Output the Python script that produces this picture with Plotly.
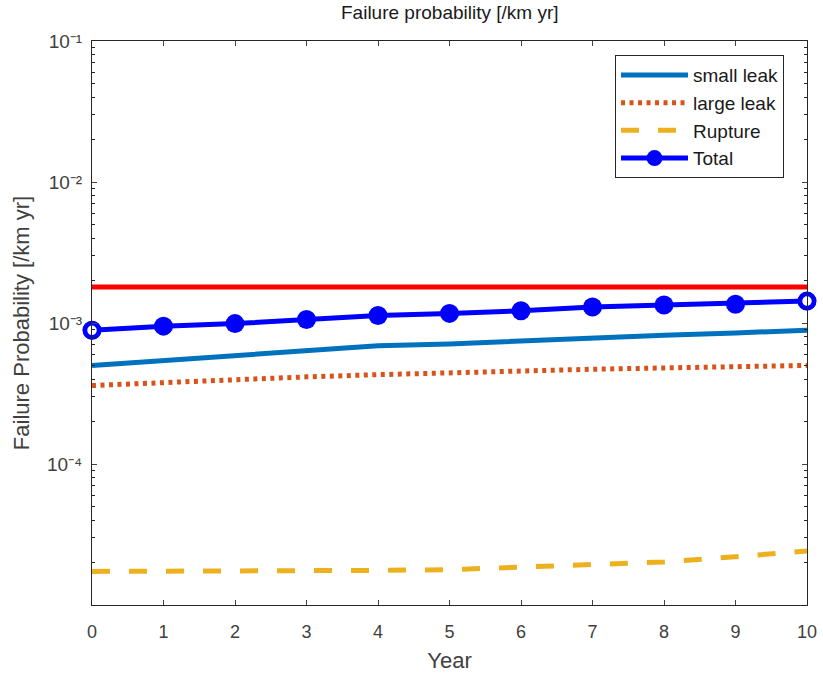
import plotly.graph_objects as go

years = [0, 1, 2, 3, 4, 5, 6, 7, 8, 9, 10]
small_leak = [5.0e-4, 5.4e-4, 5.8e-4, 6.3e-4, 6.9e-4, 7.1e-4, 7.5e-4, 7.9e-4, 8.2e-4, 8.5e-4, 8.9e-4]
large_leak = [3.6e-4, 3.8e-4, 4.0e-4, 4.15e-4, 4.3e-4, 4.45e-4, 4.6e-4, 4.7e-4, 4.8e-4, 4.9e-4, 5.0e-4]
rupture = [1.73e-5, 1.73e-5, 1.74e-5, 1.75e-5, 1.76e-5, 1.78e-5, 1.85e-5, 1.94e-5, 2.02e-5, 2.2e-5, 2.42e-5]
total = [8.87e-4, 9.5e-4, 9.9e-4, 1.06e-3, 1.13e-3, 1.17e-3, 1.22e-3, 1.30e-3, 1.34e-3, 1.36e-3, 1.43e-3]
limit_value = 1.8e-3
limit = [limit_value for _ in years]

ytick_vals = [1e-4, 1e-3, 1e-2, 1e-1]
ytick_text = ["10⁻⁴", "10⁻³", "10⁻²", "10⁻¹"]
minor_vals = [m * 10.0 ** e for e in range(-5, -1) for m in range(2, 10)]

FONT = "Liberation Sans, Arial, Helvetica, sans-serif"
AX = "#262626"
TXT = "#404040"

fig = go.Figure()
fig.add_trace(go.Scatter(x=years, y=limit, mode="lines", showlegend=False,
                         line=dict(color="#FF0000", width=5)))
fig.add_trace(go.Scatter(x=years, y=small_leak, mode="lines", name="small leak",
                         line=dict(color="#0072BD", width=5)))
fig.add_trace(go.Scatter(x=years, y=large_leak, mode="lines", name="large leak",
                         line=dict(color="#D95319", width=5, dash="4px,4.5px")))
fig.add_trace(go.Scatter(x=years, y=rupture, mode="lines", name="Rupture",
                         line=dict(color="#EDB120", width=5, dash="18px,19px")))
fig.add_trace(go.Scatter(x=years, y=total, mode="lines+markers", name="Total",
                         cliponaxis=False,
                         line=dict(color="#0000FF", width=5),
                         marker=dict(color="#0000FF", size=19, symbol="circle")))
fig.add_trace(go.Scatter(x=[years[0], years[-1]], y=[total[0], total[-1]], mode="markers",
                         showlegend=False, cliponaxis=False,
                         marker=dict(color="white", size=14, symbol="circle",
                                     line=dict(color="#0000FF", width=4.5))))

fig.update_layout(
    width=823, height=679,
    margin=dict(l=92, r=16, t=41, b=74, autoexpand=False),
    paper_bgcolor="white", plot_bgcolor="white",
    font=dict(family=FONT, color=AX, size=18),
    title=dict(text="Failure probability [/km yr]", x=0.5465, xanchor="center",
               y=0.992, yanchor="top", font=dict(size=19, color="#1a1a1a")),
    showlegend=True,
    legend=dict(x=0.7315, y=0.975, xanchor="left", yanchor="top",
                bgcolor="white", bordercolor=AX, borderwidth=1,
                font=dict(size=19, color="#1a1a1a"), itemwidth=67,
                tracegroupgap=0),
)
fig.update_xaxes(range=[0, 10], tickvals=years, ticks="inside", ticklen=5,
                 showline=True, linecolor=AX, linewidth=1, mirror="allticks",
                 showgrid=False, zeroline=False, automargin=False,
                 tickfont=dict(size=18, color=TXT), ticklabelstandoff=10,
                 title=dict(text="Year", font=dict(size=22, color=TXT), standoff=12))
fig.update_yaxes(type="log", range=[-5, -1], tickvals=ytick_vals, ticktext=ytick_text,
                 ticks="inside", ticklen=5, showline=True, linecolor=AX, linewidth=1,
                 mirror="allticks", showgrid=False, zeroline=False, automargin=False,
                 tickfont=dict(size=19, color=TXT), ticklabelstandoff=5,
                 minor=dict(tickvals=minor_vals, ticks="inside", ticklen=3, tickcolor=AX),
                 title=dict(text="Failure Probability [/km yr]",
                            font=dict(size=22, color=TXT), standoff=11))

fig.write_html("out.html")
